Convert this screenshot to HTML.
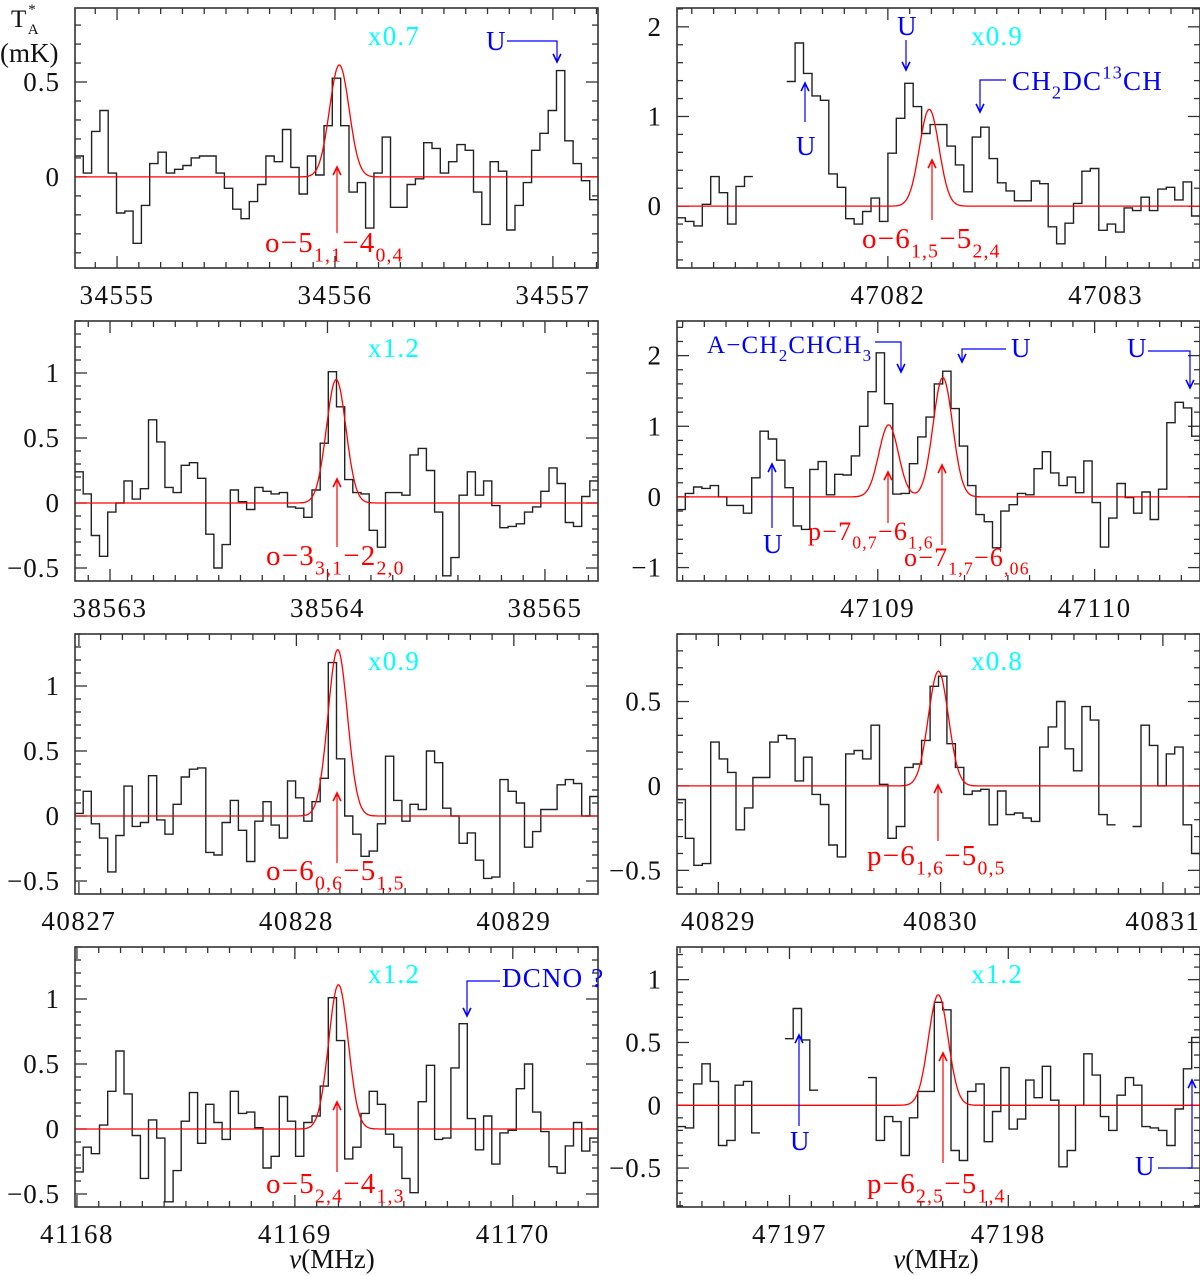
<!DOCTYPE html>
<html><head><meta charset="utf-8"><title>Spectra</title>
<style>
html,body{margin:0;padding:0;background:#fff;}
svg{display:block;font-family:"Liberation Serif","DejaVu Serif",serif;}
</style></head>
<body>
<svg id="chart" xmlns="http://www.w3.org/2000/svg" width="1200" height="1276" viewBox="0 0 1200 1276">
<rect x="0" y="0" width="1200" height="1276" fill="#fff"/>
</svg>
<script>
const p1Values=[0.11,0.02,0.24,0.35,0.02,-0.19,-0.18,-0.35,-0.15,0.07,0.13,0.02,0.04,0.06,0.10,0.11,0.11,0.02,-0.06,-0.17,-0.22,-0.13,-0.04,0.11,0.08,0.25,0.05,-0.09,0.11,0.01,0.27,0.52,0.27,-0.08,-0.03,-0.27,0.02,0.21,-0.16,-0.16,-0.04,-0.01,0.18,0.15,0.02,0.08,0.17,0.14,-0.08,-0.25,0.08,0.03,-0.28,-0.15,-0.03,0.14,0.23,0.35,0.56,0.19,0.07,-0.02,-0.12];
const p2Values=[-0.13,-0.17,-0.22,0.02,0.33,0.15,-0.20,0.22,0.33,null,null,null,null,1.39,1.82,1.48,1.23,1.18,0.36,0.21,-0.14,-0.20,-0.06,0.09,-0.17,0.59,0.98,1.37,1.11,0.81,0.91,0.91,0.67,0.46,0.16,0.77,0.88,0.53,0.26,0.17,0.06,0.06,0.28,0.25,-0.23,-0.42,-0.19,0.03,0.39,0.42,-0.27,-0.20,-0.29,-0.02,-0.05,0.10,-0.05,0.19,0.21,0.07,0.27,-0.11];
const p3Values=[0.24,0.07,-0.25,-0.41,-0.07,0.00,0.17,0.03,0.11,0.64,0.47,0.12,0.08,0.29,0.31,0.19,-0.24,-0.50,-0.32,0.10,0.01,-0.05,0.12,0.09,0.07,0.08,-0.03,-0.04,-0.11,0.10,0.46,1.01,0.74,0.18,0.08,0.07,-0.21,-0.34,0.08,0.08,0.06,0.37,0.42,0.25,-0.07,-0.56,-0.42,0.06,0.24,0.06,0.17,-0.02,-0.19,-0.18,-0.16,-0.07,-0.03,0.09,0.27,0.15,-0.15,-0.18,0.05,0.17];
const p4Values=[-0.18,0.05,0.14,0.12,0.16,0.00,-0.12,-0.12,-0.23,0.27,0.93,0.82,0.52,0.13,-0.41,-0.46,0.39,0.50,0.03,0.32,0.31,0.58,1.00,1.49,2.04,1.32,0.04,0.05,0.47,0.85,1.13,1.60,1.78,1.25,0.72,0.16,-0.25,-0.35,-0.72,-0.20,-0.11,0.05,0.03,0.40,0.64,0.34,0.16,0.28,0.06,0.51,-0.08,-0.71,-0.30,0.19,-0.01,-0.23,0.07,-0.32,0.11,1.05,1.34,1.26,0.86];
const p5Values=[0.02,0.19,-0.06,-0.17,-0.43,-0.15,0.23,-0.08,-0.05,0.31,-0.03,-0.14,0.09,0.30,0.36,0.37,-0.28,-0.30,-0.05,0.12,-0.11,-0.35,-0.04,0.11,-0.07,-0.17,0.27,0.14,-0.04,0.11,0.29,1.18,0.44,0.00,-0.14,-0.31,-0.27,-0.06,0.46,0.12,-0.04,0.09,0.05,0.50,0.41,0.06,0.00,-0.21,-0.13,-0.34,-0.48,-0.47,0.28,0.19,0.10,-0.24,-0.12,0.05,0.05,0.24,0.28,0.25,0.00,0.15];
const p6Values=[-0.08,-0.31,-0.47,-0.46,0.26,0.16,0.08,-0.26,-0.13,0.05,0.05,0.26,0.30,0.28,0.03,0.17,-0.05,-0.11,-0.35,-0.42,0.19,0.21,0.16,0.36,0.01,-0.31,-0.24,0.11,0.13,0.27,0.59,0.65,0.25,0.11,-0.05,-0.03,-0.02,-0.23,-0.03,-0.17,-0.16,-0.19,-0.21,0.23,0.35,0.50,0.22,0.09,0.47,0.39,-0.17,-0.23,null,null,-0.24,0.36,0.24,0.00,0.19,0.23,-0.23,-0.40];
const p7Values=[-0.33,-0.14,-0.19,0.03,0.29,0.60,0.27,-0.05,-0.38,0.07,-0.07,-0.56,-0.32,0.06,0.28,-0.11,0.19,0.05,-0.08,0.29,0.12,0.13,0.01,-0.30,-0.21,0.25,0.06,-0.21,0.05,0.10,0.33,1.01,0.68,-0.23,-0.14,0.12,0.29,0.19,-0.04,-0.14,-0.38,-0.49,0.21,0.49,-0.08,-0.07,0.47,0.81,0.08,-0.16,0.10,-0.27,-0.03,-0.01,0.31,0.50,0.13,-0.02,-0.29,-0.34,-0.13,0.05,-0.17,-0.07];
const p8Values=[-0.17,-0.18,0.17,0.33,0.19,-0.32,-0.28,0.16,0.19,-0.22,null,null,null,0.53,0.77,0.52,0.12,null,null,null,null,null,null,0.22,-0.28,-0.09,-0.13,-0.40,-0.10,0.11,0.11,0.82,0.76,-0.36,-0.44,0.11,0.17,-0.29,-0.05,0.30,-0.19,-0.11,0.20,0.06,0.31,0.04,-0.49,-0.36,0.00,0.41,0.24,-0.09,-0.20,0.08,0.22,0.16,-0.17,-0.18,-0.20,-0.32,-0.03,0.29,0.54];

const p1FitCenters=[34556.02], p1FitPeaks=[0.59];
const p2FitCenters=[47082.19], p2FitPeaks=[1.08];
const p3FitCenters=[38564.04], p3FitPeaks=[0.95];
const p4FitCenters=[47109.05,47109.30], p4FitPeaks=[1.02,1.69];
const p5FitCenters=[40828.19], p5FitPeaks=[1.28];
const p6FitCenters=[40829.99], p6FitPeaks=[0.68];
const p7FitCenters=[41169.20], p7FitPeaks=[1.11];
const p8FitCenters=[47197.68], p8FitPeaks=[0.88];
const fitSigma=0.045;

const p1XTicks=[34555,34556,34557], p1YTicks=["0","0.5"];
const p2XTicks=[47082,47083], p2YTicks=["0","1","2"];
const p3XTicks=[38563,38564,38565], p3YTicks=["−0.5","0","0.5","1"];
const p4XTicks=[47109,47110], p4YTicks=["−1","0","1","2"];
const p5XTicks=[40827,40828,40829], p5YTicks=["−0.5","0","0.5","1"];
const p6XTicks=[40829,40830,40831], p6YTicks=["−0.5","0","0.5"];
const p7XTicks=[41168,41169,41170], p7YTicks=["−0.5","0","0.5","1"];
const p8XTicks=[47197,47198], p8YTicks=["−0.5","0","0.5","1"];

const p1XRange=[34554.807,34557.207], p1YRange=[-0.48,0.89];
const p2XRange=[47081.032,47083.433], p2YRange=[-0.69,2.21];
const p3XRange=[38562.839,38565.244], p3YRange=[-0.60,1.40];
const p4XRange=[47108.074,47110.486], p4YRange=[-1.19,2.49];
const p5XRange=[40826.982,40829.387], p5YRange=[-0.60,1.40];
const p6XRange=[40828.814,40831.167], p6YRange=[-0.64,0.90];
const p7XRange=[41167.991,41170.391], p7YRange=[-0.60,1.40];
const p8XRange=[47196.486,47198.876], p8YRange=[-0.81,1.26];

const SVGNS="http://www.w3.org/2000/svg";
const svg=document.getElementById('chart');
function el(tag,attrs,parent){const e=document.createElementNS(SVGNS,tag);for(const k in attrs)e.setAttribute(k,attrs[k]);(parent||svg).appendChild(e);return e;}

function richText(parent,x,y,parts,size,color){
  const t=el('text',{x:x,y:y,fill:color,'font-size':size,'letter-spacing':1.2},parent);
  let prev=0;
  parts.forEach(p=>{
    const off=l=>l===1?size*0.32:(l===2?-size*0.42:0);
    const ts=el('tspan',{dy:(off(p[1])-off(prev)).toFixed(1),'font-size':p[1]?size*0.68:size},t);
    ts.textContent=p[0];prev=p[1];
  });
  return t;
}
function arrow(parent,pts,color){
  const d='M'+pts.map(p=>p.join(',')).join(' L');
  el('path',{d:d,fill:'none',stroke:color,'stroke-width':1.2},parent);
  const a=pts[pts.length-2],b=pts[pts.length-1];
  const ang=Math.atan2(b[1]-a[1],b[0]-a[0]);
  const L=9,w=0.45;
  const h1=[b[0]-L*Math.cos(ang-w),b[1]-L*Math.sin(ang-w)],h2=[b[0]-L*Math.cos(ang+w),b[1]-L*Math.sin(ang+w)];
  el('path',{d:`M${h1[0].toFixed(1)},${h1[1].toFixed(1)} L${b[0]},${b[1]} L${h2[0].toFixed(1)},${h2[1].toFixed(1)}`,fill:'none',stroke:color,'stroke-width':1.6},parent);
}

const W=523,H=260;
function panel(cfg){
  const g=el('g',{});
  
  
  const [xmin,xmax]=cfg.xr,[ymin,ymax]=cfg.yr;
  const X=f=>cfg.px+(f-xmin)/(xmax-xmin)*W;
  const Y=v=>cfg.py+(ymax-v)/(ymax-ymin)*H;
  const cid='clip-'+cfg.name;
  const cp=el('clipPath',{id:cid},g);el('rect',{x:cfg.px,y:cfg.py,width:W,height:H},cp);
  const tk=el('g',{stroke:'#333','stroke-width':1.3},g);
  
  
  for(let f=Math.ceil(xmin*10);f<=xmax*10;f++){
    const x=X(f/10),maj=(f%10===0),L=maj?12:6;
    el('line',{x1:x,y1:cfg.py+H,x2:x,y2:cfg.py+H-L},tk);
    el('line',{x1:x,y1:cfg.py,x2:x,y2:cfg.py+L},tk);
  }
  for(let v=Math.ceil(ymin/cfg.ym);v<=ymax/cfg.ym+1e-9;v++){
    const val=v*cfg.ym,y=Y(val);
    const maj=Math.abs(val/cfg.yM-Math.round(val/cfg.yM))<1e-6,L=maj?12:6;
    el('line',{x1:cfg.px,y1:y,x2:cfg.px+L,y2:y},tk);
    el('line',{x1:cfg.px+W,y1:y,x2:cfg.px+W-L,y2:y},tk);
  }
  cfg.xt.forEach(f=>{
    const t=el('text',{x:X(f),y:cfg.py+H+36,'font-size':27,'text-anchor':'middle','letter-spacing':1.5,fill:'#111'},g);
    
    
    t.textContent=String(f);
  });
  cfg.yt.forEach(s=>{
    const v=parseFloat(s.replace('−','-'));
    const t=el('text',{x:cfg.px-15,y:Y(v)+9,'font-size':27,'text-anchor':'end','letter-spacing':1,fill:'#111'},g);
    
    
    t.textContent=s;
  });
  const N=cfg.v.length,cw=(xmax-xmin)/N;
  let d='',prevNull=true;
  cfg.v.forEach((v,i)=>{
    if(v===null){prevNull=true;return;}
    const x0=X(xmin+i*cw).toFixed(1),x1=X(xmin+(i+1)*cw).toFixed(1),y=Y(v).toFixed(1);
    d+=(prevNull?`M${x0},${y}`:`V${y}`)+`H${x1}`;prevNull=false;
  });
  const sp=el('path',{d:d,fill:'none',stroke:'#222','stroke-width':1.4,'clip-path':`url(#${cid})`},g);
  
  
  let fd='';
  for(let k=0;k<=600;k++){
    const f=xmin+(xmax-xmin)*k/600;
    let v=0;cfg.fc.forEach((c,j)=>{v+=cfg.fp[j]*Math.exp(-((f-c)*(f-c))/(2*fitSigma*fitSigma));});
    fd+=(k?'L':'M')+X(f).toFixed(1)+','+Y(v).toFixed(1);
  }
  const fp=el('path',{d:fd,fill:'none',stroke:'#ff0000','stroke-width':1.3,'clip-path':`url(#${cid})`},g);
  
  
  const fr=el('rect',{x:cfg.px,y:cfg.py,width:W,height:H,fill:'none',stroke:'#333','stroke-width':1.6},g);
  
  
  return g;
}

const cfgs=[
 {name:'panel-34556',px:75,py:8,xr:p1XRange,yr:p1YRange,xt:p1XTicks,yt:p1YTicks,ym:0.1,yM:0.5,v:p1Values,fc:p1FitCenters,fp:p1FitPeaks},
 {name:'panel-47082',px:677,py:8,xr:p2XRange,yr:p2YRange,xt:p2XTicks,yt:p2YTicks,ym:0.2,yM:1,v:p2Values,fc:p2FitCenters,fp:p2FitPeaks},
 {name:'panel-38564',px:75,py:321,xr:p3XRange,yr:p3YRange,xt:p3XTicks,yt:p3YTicks,ym:0.1,yM:0.5,v:p3Values,fc:p3FitCenters,fp:p3FitPeaks},
 {name:'panel-47109',px:677,py:321,xr:p4XRange,yr:p4YRange,xt:p4XTicks,yt:p4YTicks,ym:0.2,yM:1,v:p4Values,fc:p4FitCenters,fp:p4FitPeaks},
 {name:'panel-40828',px:75,py:634,xr:p5XRange,yr:p5YRange,xt:p5XTicks,yt:p5YTicks,ym:0.1,yM:0.5,v:p5Values,fc:p5FitCenters,fp:p5FitPeaks},
 {name:'panel-40830',px:677,py:634,xr:p6XRange,yr:p6YRange,xt:p6XTicks,yt:p6YTicks,ym:0.1,yM:0.5,v:p6Values,fc:p6FitCenters,fp:p6FitPeaks},
 {name:'panel-41169',px:75,py:947,xr:p7XRange,yr:p7YRange,xt:p7XTicks,yt:p7YTicks,ym:0.1,yM:0.5,v:p7Values,fc:p7FitCenters,fp:p7FitPeaks},
 {name:'panel-47197',px:677,py:947,xr:p8XRange,yr:p8YRange,xt:p8XTicks,yt:p8YTicks,ym:0.1,yM:0.5,v:p8Values,fc:p8FitCenters,fp:p8FitPeaks}
];
cfgs.forEach(panel);

const ann=el('g',{});


const R='#ff0000',B='#0000ff',C='#00ffff';
function lbl(name,x,y,parts,size,color){const t=richText(ann,x,y,parts,size,color);
  
  
  return t;}
lbl('scale-label',368,45,[["x0.7",0]],27,C);
lbl('scale-label',971,45,[["x0.9",0]],27,C);
lbl('scale-label',368,357,[["x1.2",0]],27,C);
lbl('scale-label',368,670,[["x0.9",0]],27,C);
lbl('scale-label',971,670,[["x0.8",0]],27,C);
lbl('scale-label',368,983,[["x1.2",0]],27,C);
lbl('scale-label',971,983,[["x1.2",0]],27,C);
arrow(ann,[[337,233],[337,167]],R); lbl('transition-label',265,252,[["o−5",0],["1,1",1],["−4",0],["0,4",1]],29,R);
arrow(ann,[[932,220],[932,160]],R); lbl('transition-label',862,248,[["o−6",0],["1,5",1],["−5",0],["2,4",1]],29,R);
arrow(ann,[[337,547],[337,479]],R); lbl('transition-label',266,565,[["o−3",0],["3,1",1],["−2",0],["2,0",1]],29,R);
arrow(ann,[[888,523],[888,472]],R); lbl('transition-label',808,540,[["p−7",0],["0,7",1],["−6",0],["1,6",1]],26,R);
arrow(ann,[[942,545],[942,465]],R); lbl('transition-label',904,566,[["o−7",0],["1,7",1],["−6",0],[",06",1]],26,R);
arrow(ann,[[337,863],[337,793]],R); lbl('transition-label',266,880,[["o−6",0],["0,6",1],["−5",0],["1,5",1]],29,R);
arrow(ann,[[938,841],[938,785]],R); lbl('transition-label',867,865,[["p−6",0],["1,6",1],["−5",0],["0,5",1]],29,R);
arrow(ann,[[337,1172],[337,1102]],R); lbl('transition-label',266,1193,[["o−5",0],["2,4",1],["−4",0],["1,3",1]],29,R);
arrow(ann,[[943,1163],[943,1053]],R); lbl('transition-label',867,1193,[["p−6",0],["2,5",1],["−5",0],["1,4",1]],29,R);
lbl('unidentified-label',486,50,[["U",0]],27,B); arrow(ann,[[507,41],[557,41],[557,62]],B);
lbl('unidentified-label',796,155,[["U",0]],27,B); arrow(ann,[[805,122],[805,83]],B);
lbl('unidentified-label',897,35,[["U",0]],27,B); arrow(ann,[[906,40],[906,70]],B);
lbl('species-label',1012,90,[["CH",0],["2",1],["DC",0],["13",2],["CH",0]],27,B); arrow(ann,[[1006,80],[980,80],[980,112]],B);
lbl('species-label',707,353,[["A−CH",0],["2",1],["CHCH",0],["3",1]],25,B); arrow(ann,[[875,342],[901,342],[901,372]],B);
lbl('unidentified-label',1011,357,[["U",0]],27,B); arrow(ann,[[1006,349],[962,349],[962,362]],B);
lbl('unidentified-label',1127,357,[["U",0]],27,B); arrow(ann,[[1148,351],[1190,351],[1190,388]],B);
lbl('unidentified-label',763,553,[["U",0]],27,B); arrow(ann,[[772,528],[772,464]],B);
lbl('species-label',502,987,[["DCNO ?",0]],27,B); arrow(ann,[[500,981],[467,981],[467,1016]],B);
lbl('unidentified-label',790,1150,[["U",0]],27,B); arrow(ann,[[799,1126],[799,1035]],B);
lbl('unidentified-label',1135,1175,[["U",0]],27,B); arrow(ann,[[1158,1168],[1192,1168],[1192,1080]],B);

const yt1=el('text',{x:11,y:27,'font-size':25,fill:'#111'});


yt1.innerHTML='T<tspan dx="2" dy="-13" font-size="15">*</tspan><tspan dx="-8" dy="20" font-size="15">A</tspan>';
const yt2=el('text',{x:0,y:62,'font-size':27,fill:'#111'});


yt2.textContent='(mK)';
[[332,'x-axis-title-left'],[936,'x-axis-title-right']].forEach(a=>{
  const t=el('text',{x:a[0],y:1268,'font-size':27,'text-anchor':'middle',fill:'#111'});
  
  
  t.innerHTML='<tspan font-style="italic">ν</tspan>(MHz)';
});
</script>
</body></html>
